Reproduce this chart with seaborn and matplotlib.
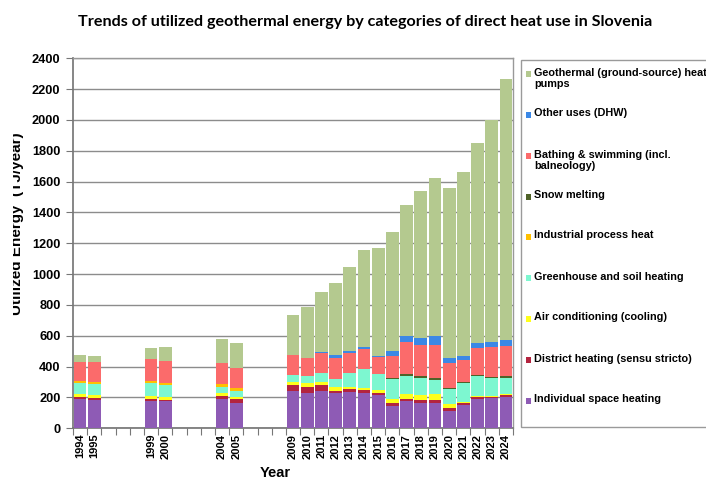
import numpy as np
import pandas as pd
import matplotlib
matplotlib.use("Agg")
import matplotlib.pyplot as plt
import seaborn as sns
from matplotlib.patches import Rectangle
from matplotlib.transforms import Bbox

# ---------------- data ----------------
years = ["1994", "1995", "1999", "2000", "2004", "2005",
         "2009", "2010", "2011", "2012", "2013", "2014", "2015", "2016",
         "2017", "2018", "2019", "2020", "2021", "2022", "2023", "2024"]
all_years = [str(y) for y in range(1994, 2025)]

space_heating = [188, 182, 179, 179, 188, 162,
                 244, 231, 244, 227, 235, 231, 214, 147, 177, 166, 166, 114, 151, 190, 195, 205]
district_heating = [13, 13, 9, 5, 22, 26,
                    37, 39, 37, 15, 18, 17, 17, 19, 13, 18, 18, 20, 11, 15, 10, 11]
air_conditioning = [22, 19, 22, 19, 17, 13,
                    19, 22, 19, 24, 17, 11, 17, 24, 30, 32, 36, 21, 11, 7, 7, 9]
greenhouse = [73, 73, 82, 76, 43, 43,
              46, 47, 61, 56, 91, 124, 102, 128, 119, 108, 93, 98, 123, 127, 116, 103]
industrial = [11, 13, 13, 13, 18, 15,
              0, 0, 0, 0, 0, 0, 0, 0, 0, 0, 0, 0, 0, 0, 0, 0]
snow_melting = [0, 0, 0, 0, 0, 0,
                0, 0, 0, 0, 0, 4, 0, 6, 13, 13, 15, 6, 6, 7, 7, 9]
bathing = [125, 127, 142, 146, 134, 130,
           128, 119, 126, 132, 127, 125, 110, 147, 206, 203, 212, 163, 141, 173, 195, 197]
other_uses = [0, 0, 0, 0, 0, 0,
              0, 0, 6, 22, 13, 13, 9, 30, 43, 48, 59, 32, 26, 32, 32, 39]
heat_pumps = [43, 41, 76, 87, 155, 166,
              261, 331, 393, 468, 546, 631, 702, 774, 847, 951, 1023, 1107, 1195, 1298, 1438, 1694]

labels = ["Individual space heating", "District heating (sensu stricto)",
          "Air conditioning (cooling)", "Greenhouse and soil heating",
          "Industrial process heat", "Snow melting",
          "Bathing & swimming (incl.\nbalneology)", "Other uses (DHW)",
          "Geothermal (ground-source) heat\npumps"]
series = [space_heating, district_heating, air_conditioning, greenhouse,
          industrial, snow_melting, bathing, other_uses, heat_pumps]
colors = ["#8E5BB5", "#B3243F", "#FFFF1A", "#7DF7D0",
          "#FFC000", "#4F6228", "#FB6B6B", "#3B88E6", "#B4C98F"]

yticks = list(range(0, 2401, 200))

# ---------------- figure ----------------
sns.set_theme(style="white")
plt.rcParams["font.family"] = ["Liberation Sans", "DejaVu Sans"]
plt.rcParams["text.color"] = "black"
plt.rcParams["xtick.labelcolor"] = "black"
plt.rcParams["ytick.labelcolor"] = "black"

W, H = 706, 480
fig = plt.figure(figsize=(W / 100, H / 100), dpi=100)
ax = fig.add_axes([73 / W, 1 - 428.3 / H, (513 - 73) / W, (428.3 - 58.3) / H])

df = pd.DataFrame({"year": years})
cum = np.zeros(len(years))
cums = []
for s in series:
    cum = cum + np.array(s, dtype=float)
    cums.append(cum.copy())

for k in range(len(series) - 1, -1, -1):
    df["v"] = cums[k]
    sns.barplot(data=df, x="year", y="v", order=all_years, color=colors[k],
                saturation=1, width=0.9, errorbar=None, linewidth=0, ax=ax,
                zorder=3)

ax.set_xlim(-0.5, len(all_years) - 0.5)
ax.set_ylim(0, 2400)
ax.set_yticks(yticks)
ax.set_yticklabels([str(v) for v in yticks], fontsize=9.2, fontweight="bold",
                   color="black")
ax.set_xticks(range(len(all_years)))
ax.set_xticklabels([y if y in years else "" for y in all_years],
                   rotation=90, fontsize=8, fontweight="bold", color="black")
ax.set_xticks(np.arange(-0.5, len(all_years), 1), minor=True)
ax.tick_params(axis="x", which="major", length=0, pad=4)
ax.tick_params(axis="x", which="minor", length=5, width=0.8, color="#777777",
               direction="out", bottom=True)
ax.tick_params(axis="y", length=5, width=0.8, color="#777777", direction="out",
               left=True, pad=4)
ax.grid(axis="y", color="#8C8C8C", linewidth=1.0, zorder=0)
ax.set_axisbelow(True)
ax.set_xlabel("")
ax.set_ylabel("")
for side in ["top", "right"]:
    ax.spines[side].set_color("#999999")
    ax.spines[side].set_linewidth(1.0)
ax.spines["left"].set_color("#777777")
ax.spines["bottom"].set_color("#777777")

# title and axis labels
fig.text(365 / W, 1 - 22 / H,
         "Trends of utilized geothermal energy by categories of direct heat use in Slovenia",
         ha="center", va="center", fontsize=11.6, fontweight="bold", color="black",
         family=["Lato", "DejaVu Sans"])
fig.text(275 / W, 1 - 473 / H, "Year", ha="center", va="center",
         fontsize=10.5, fontweight="bold", color="black")
yl = fig.text(17 / W, 1 - 224 / H, "Utilized Energy  (TJ/year)", rotation=90,
              ha="center", va="center", fontsize=11, fontweight="bold",
              color="black")
yl.set_clip_box(Bbox.from_extents(13, 0, W, H))
yl.set_clip_on(True)

# legend box (manual, figure pixel coordinates)
def fx(px):
    return px / W

def fy(py):
    return 1 - py / H

box = Rectangle((fx(521), fy(427)), fx(W + 5) - fx(521), fy(60) - fy(427),
                transform=fig.transFigure, facecolor="white",
                edgecolor="#9A9A9A", linewidth=1.0, clip_on=False)
fig.add_artist(box)
entry_y = [401, 360, 319, 278, 237, 197, 156, 115, 74]
for k in range(len(series)):
    y0 = entry_y[k]
    sq = Rectangle((fx(526), fy(y0 + 2.6)), fx(5.2), 5.2 / H,
                   transform=fig.transFigure, facecolor=colors[k],
                   edgecolor="none")
    fig.add_artist(sq)
    fig.text(fx(534), fy(y0 - 6.5), labels[k], ha="left", va="top",
             fontsize=7.8, fontweight="bold", linespacing=1.15, color="black")

fig.savefig("out.png", dpi=100)
